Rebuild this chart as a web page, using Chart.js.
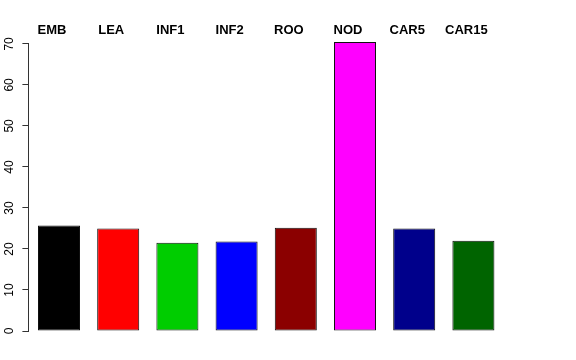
<!DOCTYPE html>
<html>
<head>
<meta charset="utf-8">
<script src="https://cdn.jsdelivr.net/npm/chart.js@4"></script>
<style>
  html, body { margin: 0; padding: 0; background: #fff; }
  #wrap { width: 576px; height: 360px; }
</style>
</head>
<body>
<div id="wrap"><canvas id="bar-chart"></canvas></div>
<script>
var tissues = ['EMB', 'LEA', 'INF1', 'INF2', 'ROO', 'NOD', 'CAR5', 'CAR15'];
var values = [25.7, 25.0, 21.5, 21.8, 25.2, 70.5, 25.0, 22.0];
var barColors = ['#000000', '#FF0000', '#00CD00', '#0000FF', '#8B0000', '#FF00FF', '#00008B', '#006400'];
var yTicks = [0, 10, 20, 30, 40, 50, 60, 70];

// R style y axis line: only from first to last tick
var axisLine = {
    id: 'axisLine',
    afterDraw: function(chart) {
        var y = chart.scales.y;
        var ctx = chart.ctx;
        var x = Math.round(chart.chartArea.left) - 0.5;
        ctx.save();
        ctx.strokeStyle = '#333';
        ctx.lineWidth = 1;
        ctx.beginPath();
        ctx.moveTo(x, y.getPixelForValue(yTicks[0]));
        ctx.lineTo(x, y.getPixelForValue(yTicks[yTicks.length - 1]));
        ctx.stroke();
        ctx.restore();
    }
};

var ctx = document.getElementById('bar-chart').getContext('2d');

new Chart(ctx, {
    type: 'bar',
    data: {
        labels: tissues,
        datasets: [{
            data: values,
            backgroundColor: barColors,
            borderColor: '#111',
            borderWidth: 1,
            borderSkipped: false,
            barPercentage: 0.71,
            categoryPercentage: 1
        }]
    },
    options: {
        responsive: true,
        maintainAspectRatio: false,
        animation: false,
        layout: {
            padding: { top: 23, bottom: 29, right: 73, left: 0 }
        },
        plugins: {
            legend: { display: false },
            tooltip: { enabled: false }
        },
        scales: {
            x: {
                position: 'top',
                grid: { display: false, drawTicks: false, tickLength: 0 },
                border: { display: false },
                ticks: {
                    color: '#000',
                    font: { family: 'Liberation Sans, Arial, sans-serif', size: 13, weight: 'bold' },
                    padding: 0,
                    labelOffset: -7,
                    maxRotation: 0
                }
            },
            y: {
                min: 0,
                max: 71.3,
                border: { display: false },
                grid: {
                    drawOnChartArea: false,
                    tickLength: 7,
                    color: '#333'
                },
                afterFit: function(scale) { scale.width = 29.4; },
                afterBuildTicks: function(scale) {
                    scale.ticks = yTicks.map(function(v) { return { value: v }; });
                },
                ticks: {
                    includeBounds: false,
                    color: '#000',
                    font: { family: 'Liberation Sans, Arial, sans-serif', size: 12 },
                    minRotation: 90,
                    maxRotation: 90,
                    crossAlign: 'center',
                    padding: 6
                }
            }
        }
    },
    plugins: [axisLine]
});
</script>
</body>
</html>
